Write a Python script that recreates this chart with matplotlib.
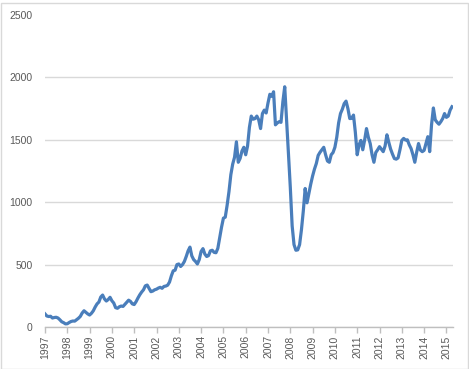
import matplotlib
matplotlib.use("Agg")
import matplotlib.pyplot as plt
from matplotlib.patches import Rectangle
import numpy as np

# monthly values, Jan 1997 .. Apr 2015
start_year = 1997
values = [
    105, 88, 84, 86, 72, 76, 78, 72, 58, 42, 35, 25,              # 1997
    26, 36, 44, 48, 47, 58, 70, 85, 112, 130, 118, 105,           # 1998
    96, 110, 130, 160, 185, 200, 240, 256, 225, 208, 220, 238,    # 1999
    210, 192, 155, 150, 162, 168, 165, 182, 200, 215, 205, 185,   # 2000
    180, 203, 232, 258, 280, 298, 330, 336, 310, 283, 288, 298,   # 2001
    303, 312, 318, 310, 325, 328, 335, 360, 410, 450, 455, 500,   # 2002
    505, 485, 500, 525, 565, 610, 640, 570, 540, 525, 505, 540,   # 2003
    605, 628, 585, 565, 572, 610, 615, 598, 595, 630, 715, 800,   # 2004
    872, 880, 975, 1085, 1220, 1305, 1360, 1484, 1320, 1351, 1410, 1440,  # 2005
    1380, 1450, 1600, 1690, 1665, 1670, 1690, 1660, 1590, 1710, 1738, 1715,  # 2006
    1795, 1865, 1848, 1885, 1620, 1635, 1645, 1640, 1805, 1925, 1650, 1390,  # 2007
    1120, 810, 660, 615, 618, 660, 780, 930, 1110, 995, 1070, 1145,  # 2008
    1210, 1265, 1310, 1375, 1400, 1420, 1440, 1380, 1330, 1320, 1380, 1398,  # 2009
    1440, 1520, 1635, 1710, 1745, 1790, 1810, 1750, 1670, 1672, 1698, 1560,  # 2010
    1380, 1460, 1495, 1420, 1498, 1590, 1520, 1470, 1380, 1320, 1398, 1420,  # 2011
    1445, 1425, 1405, 1450, 1540, 1480, 1425, 1385, 1350, 1345, 1355, 1420,  # 2012
    1495, 1511, 1498, 1500, 1460, 1430, 1380, 1320, 1400, 1470, 1418, 1405,  # 2013
    1415, 1470, 1525, 1405, 1620, 1755, 1660, 1640, 1625, 1645, 1670, 1710,  # 2014
    1680, 1690, 1738, 1765,                                        # 2015
]
year_ticks = list(range(1997, 2016))
y_ticks = [0, 500, 1000, 1500, 2000, 2500]

t = start_year + np.arange(len(values)) / 12.0

plt.rcParams['font.family'] = ['Liberation Sans', 'DejaVu Sans']

fig = plt.figure(figsize=(4.69, 3.69), dpi=100)
ax = fig.add_axes([45 / 469, 1 - 327 / 369, 408 / 469, 312 / 369])

ax.plot(t, values, color='#4A7EBB', linewidth=2.3, solid_joinstyle='round')

ax.set_xlim(1997, 1997 + 408 / 22.3)
ax.set_ylim(0, 2500)
ax.set_xticks(year_ticks)
ax.set_xticklabels([str(y) for y in year_ticks], rotation=90, va='top', ha='center')
ax.set_yticks(y_ticks)

ax.yaxis.grid(True, color='#D9D9D9', linewidth=1.0)
ax.get_ygridlines()[-1].set_visible(False)
ax.set_axisbelow(True)

for s in ['top', 'right', 'left']:
    ax.spines[s].set_visible(False)
ax.spines['bottom'].set_color('#BFBFBF')
ax.spines['bottom'].set_linewidth(1.0)

ax.tick_params(axis='y', length=0, pad=9, labelsize=7.5, labelcolor='#595959')
ax.tick_params(axis='x', length=4, width=1.0, color='#BFBFBF', pad=2,
               labelsize=7.5, labelcolor='#595959')

# chart area border
fig.patches.append(Rectangle((0.5 / 469, 0.5 / 369), 467 / 469, 366 / 369,
                             transform=fig.transFigure, fill=False,
                             edgecolor='#D9D9D9', linewidth=1.0))

fig.savefig('out.png', dpi=100)
